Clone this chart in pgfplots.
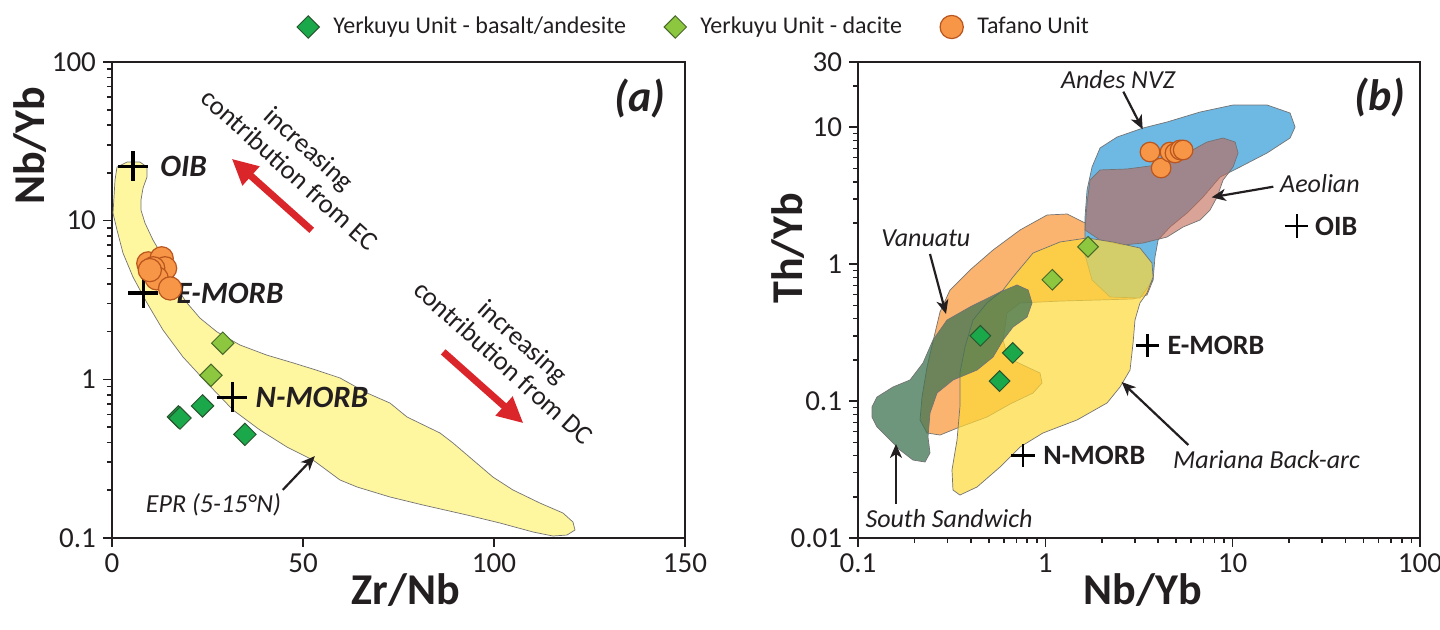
\documentclass[border=0pt]{standalone}
\usepackage{fontspec}
\setmainfont{Carlito}
\usepackage{pgfplots}
\pgfplotsset{compat=1.18}
\usetikzlibrary{arrows.meta}

\definecolor{txt}{RGB}{35,31,32}
\definecolor{gbas}{RGB}{26,168,75}
\definecolor{gbasd}{RGB}{40,85,45}
\definecolor{gdac}{RGB}{141,198,63}
\definecolor{gdacd}{RGB}{70,105,40}
\definecolor{oraf}{RGB}{247,150,70}
\definecolor{orad}{RGB}{185,85,30}
\definecolor{epr}{RGB}{255,246,160}
\definecolor{redarr}{RGB}{218,37,42}
\definecolor{andes}{RGB}{110,184,228}
\definecolor{aeol}{RGB}{192,102,83}
\definecolor{vanu}{RGB}{250,180,112}
\definecolor{maria}{RGB}{254,216,55}
\definecolor{ssand}{RGB}{62,115,82}

\pgfplotsset{
  panel/.style={
    scale only axis, height=238pt, clip=false,
    axis line style={line width=0.9pt, draw=txt},
    tick style={line width=0.8pt, draw=txt},
    tick align=outside,
    major tick length=4.5pt, minor tick length=2.5pt,
    xtick pos=left, ytick pos=left,
    tick label style={font=\fontsize{14.5}{16}\selectfont, text=txt},
    /pgf/number format/assume math mode=true,
    label style={font=\fontsize{22}{24}\selectfont\bfseries, text=txt},
  },
  fld/.style={draw=black!55, line width=0.35pt, forget plot},
  crs/.style={only marks, mark=+, mark options={line width=1.6pt, draw=black}, forget plot},
}
\tikzset{
  annot/.style={font=\fontsize{13}{15}\selectfont\itshape, text=txt, inner sep=0pt},
  blk/.style={draw=txt, line width=1.1pt, -{Stealth[length=7pt,width=6pt,inset=2pt]}},
  redarrow/.style={draw=redarr, line width=3.5pt, -{Triangle[length=13pt,width=12pt]}},
}

\begin{document}
\begin{tikzpicture}
\useasboundingbox (0,0) rectangle (720pt,315pt);

% ---------------- panel (a)
\begin{axis}[panel,
  at={(56pt,46pt)}, anchor=south west, width=286.5pt,
  ymode=log, xmin=0, xmax=150, ymin=0.1, ymax=100,
  xtick={0,50,100,150}, xticklabels={0,50,100,150},
  ytick={0.1,1,10,100}, yticklabels={0.1,1,10,100},
  minor ytick={0.2,0.3,0.4,0.5,0.6,0.7,0.8,0.9,2,3,4,5,6,7,8,9,20,30,40,50,60,70,80,90},
  xlabel={Zr/Nb}, ylabel={Nb/Yb},
  xlabel style={at={(axis description cs:0.513,-0.109)}, anchor=center},
  ylabel style={at={(axis description cs:-0.143,0.824)}, anchor=center},
  legend columns=3,
  legend cell align=left,
  legend style={at={(axis description cs:1.0175,1.0735)}, anchor=center, draw=none, fill=none,
    font=\fontsize{12}{14}\selectfont, text=txt,
    /tikz/every odd column/.append style={column sep=5pt},
    /tikz/every even column/.append style={column sep=17pt}},
]
\addplot[fld, fill=epr] coordinates {
(1.31,21.77) (3.93,23.40) (7.33,23.40) (9.16,21.77) (9.16,18.83) (8.12,16.05) (7.59,13.49) (7.59,11.66)
(8.64,9.66) (10.73,7.55) (13.35,5.90) (15.71,4.68) (17.28,3.65) (19.63,3.03) (23.04,2.43) (27.49,1.99)
(33.51,1.645) (40.58,1.42) (47.38,1.27) (53.66,1.14) (59.69,1.02) (66.75,0.82) (72.77,0.709) (77.23,0.579)
(85.86,0.459) (89.27,0.397) (94.50,0.310) (99.74,0.242) (104.97,0.2007) (112.04,0.166) (118.06,0.1437)
(120.68,0.126) (121.20,0.1123) (119.11,0.1044) (115.45,0.1029) (110.21,0.1091) (101.57,0.1243) (92.93,0.1396)
(81.41,0.1614) (72.77,0.1813) (64.14,0.2097) (59.69,0.232) (52.62,0.310) (45.81,0.3745) (38.74,0.479)
(31.68,0.641) (24.87,0.948) (18.59,1.382) (13.35,2.045) (9.16,3.03) (5.50,4.41) (2.88,6.25) (1.31,8.73)
(0.26,11.16) (0.52,14.08) (0.79,18.03)} -- cycle;

\addplot[crs, mark size=7.5pt] coordinates {(5.5,22) (8.2,3.5) (31.5,0.77)};

\addplot[only marks, mark=square*, mark size=3.95pt, mark options={rotate=45, fill=gbas, draw=gbasd, line width=0.5pt}]
  coordinates {(17.4,0.58) (17.8,0.57) (23.7,0.68) (34.8,0.45)};
\addlegendentry{Yerkuyu Unit - basalt/andesite\hspace{16pt}}
\addplot[only marks, mark=square*, mark size=3.95pt, mark options={rotate=45, fill=gdac, draw=gdacd, line width=0.5pt}]
  coordinates {(29.0,1.69) (25.9,1.06)};
\addlegendentry{Yerkuyu Unit - dacite}
\addplot[only marks, mark=*, mark size=5.8pt, mark options={fill=oraf, draw=orad, line width=0.6pt}]
  coordinates {(9.5,5.38) (13.0,5.79) (13.9,5.01) (10.8,5.01) (11.7,4.33) (15.2,3.74) (9.9,4.88)};
\addlegendentry{Tafano Unit}

\node[font=\fontsize{22}{24}\selectfont\bfseries\itshape, text=txt] at (rel axis cs:0.921,0.924) {(a)};
\node[font=\fontsize{15.5}{17}\selectfont\bfseries\itshape, text=txt, anchor=west, inner sep=0pt, xshift=13.5pt] at (axis cs:5.5,22) {OIB};
\node[font=\fontsize{15.5}{17}\selectfont\bfseries\itshape, text=txt, anchor=west, inner sep=0pt, xshift=16.5pt] at (axis cs:8.2,3.5) {E-MORB};
\node[font=\fontsize{15.5}{17}\selectfont\bfseries\itshape, text=txt, anchor=west, inner sep=0pt, xshift=11.5pt] at (axis cs:31.5,0.77) {N-MORB};

\node[rotate=-42, align=center, font=\fontsize{13.4}{14.5}\selectfont, text=txt] at (rel axis cs:0.327,0.796) {increasing\\contribution from EC};
\node[rotate=-42, align=center, font=\fontsize{13.4}{14.5}\selectfont, text=txt] at (rel axis cs:0.7007,0.391) {increasing\\contribution from DC};
\draw[redarrow] (rel axis cs:0.3485,0.6464) -- (rel axis cs:0.2089,0.7968);
\draw[redarrow] (rel axis cs:0.578,0.391) -- (rel axis cs:0.718,0.241);

\node[annot] at (rel axis cs:0.177,0.069) {EPR (5-15°N)};
\draw[blk] (rel axis cs:0.298,0.101) -- (rel axis cs:0.354,0.172);
\end{axis}

% ---------------- panel (b)
\begin{axis}[panel,
  at={(429pt,46pt)}, anchor=south west, width=281pt,
  xmode=log, ymode=log, xmin=0.1, xmax=100, ymin=0.01, ymax=30,
  xtick={0.1,1,10,100}, xticklabels={0.1,1,10,100},
  minor xtick={0.2,0.3,0.4,0.5,0.6,0.7,0.8,0.9,2,3,4,5,6,7,8,9,20,30,40,50,60,70,80,90},
  ytick={0.01,0.1,1,10,30}, yticklabels={0.01,0.1,1,10,30},
  minor ytick={0.02,0.03,0.04,0.05,0.06,0.07,0.08,0.09,0.2,0.3,0.4,0.5,0.6,0.7,0.8,0.9,2,3,4,5,6,7,8,9,20},
  xlabel={Nb/Yb}, ylabel={Th/Yb},
  xlabel style={at={(axis description cs:0.507,-0.109)}, anchor=center},
  ylabel style={at={(axis description cs:-0.1246,0.609)}, anchor=center},
]
% Vanuatu
\addplot[fld, fill=vanu] coordinates {
(1.021,2.287) (1.306,2.326) (1.590,2.033) (2.216,1.719) (3.01,1.381) (3.62,1.038) (3.76,0.767) (3.49,0.596)
(2.94,0.557) (1.198,0.538) (0.733,0.521) (0.624,0.440) (0.595,0.2795) (0.632,0.2064) (0.799,0.1775) (0.937,0.1604)
(0.960,0.1356) (0.860,0.1146) (0.648,0.0952) (0.488,0.0765) (0.350,0.0647) (0.274,0.0565) (0.2336,0.0585)
(0.2143,0.0728) (0.2196,0.1071) (0.2336,0.1775) (0.2577,0.3144) (0.274,0.4475) (0.3099,0.648) (0.3963,0.907)
(0.526,1.270) (0.733,1.778)} -- cycle;
% Andes NVZ
\addplot[fld, fill=andes] coordinates {
(1.629,2.212) (1.670,3.483) (1.776,5.13) (1.959,7.06) (2.415,8.49) (3.323,9.88) (4.465,10.93) (6.70,12.93)
(10.05,14.55) (15.26,14.55) (20.25,12.72) (21.53,10.05) (20.25,8.35) (15.26,6.49) (10.95,5.13) (8.57,4.335)
(6.95,3.097) (5.71,2.366) (4.63,1.870) (4.00,1.503) (3.85,1.129) (3.76,0.767) (3.20,0.566) (2.216,0.576)
(1.776,0.767) (1.629,1.168)} -- cycle;
% Aeolian
\addplot[fld, fill=aeol, fill opacity=0.6] coordinates {
(1.629,1.778) (1.670,2.80) (1.733,4.12) (1.959,4.88) (2.731,4.96) (3.95,5.30) (5.71,6.49) (7.30,7.81)
(8.89,8.35) (10.30,7.81) (10.69,6.49) (10.05,5.13) (8.89,4.12) (8.26,3.097) (7.57,2.488) (6.70,2.103)
(5.44,1.870) (4.465,1.580) (3.323,1.428) (2.598,1.381) (1.959,1.503)} -- cycle;
% Mariana back-arc
\addplot[fld, fill=maria, fill opacity=0.7] coordinates {
(0.672,0.806) (0.860,1.207) (1.198,1.453) (1.670,1.554) (2.298,1.453) (3.20,1.313) (3.71,1.020) (3.76,0.806)
(3.49,0.616) (3.20,0.521) (3.01,0.391) (2.94,0.2657) (2.833,0.1687) (2.505,0.1268) (2.135,0.0969) (1.476,0.0728)
(0.972,0.0585) (0.733,0.0462) (0.573,0.0330) (0.432,0.02358) (0.350,0.0206) (0.3214,0.0224) (0.3175,0.0314)
(0.3378,0.0520) (0.350,0.0906) (0.350,0.1604) (0.3727,0.2485) (0.411,0.391) (0.488,0.521) (0.595,0.648)} -- cycle;
% South Sandwich
\addplot[fld, fill=ssand, fill opacity=0.75] coordinates {
(0.1188,0.0906) (0.1263,0.1071) (0.1538,0.1268) (0.1895,0.1426) (0.2223,0.1898) (0.2514,0.2795) (0.2987,0.391)
(0.3963,0.487) (0.573,0.626) (0.706,0.705) (0.809,0.648) (0.849,0.521) (0.799,0.4114) (0.672,0.3477)
(0.595,0.2795) (0.526,0.210) (0.432,0.1687) (0.3214,0.1426) (0.2641,0.1146) (0.2423,0.0819) (0.2364,0.0547)
(0.2423,0.0418) (0.2279,0.0359) (0.1966,0.0371) (0.1676,0.0439) (0.1482,0.0520) (0.1263,0.0647) (0.1188,0.0765)} -- cycle;

\addplot[crs, mark size=5.8pt, mark options={line width=1.3pt}] coordinates {(22,1.9) (3.5,0.255) (0.76,0.04)};

\addplot[only marks, mark=square*, mark size=3.65pt, mark options={rotate=45, fill=gbas, draw=gbasd, line width=0.5pt}]
  coordinates {(0.45,0.30) (0.67,0.225) (0.57,0.14)};
\addplot[only marks, mark=square*, mark size=3.65pt, mark options={rotate=45, fill=gdac, draw=gdacd, line width=0.5pt}]
  coordinates {(1.69,1.34) (1.09,0.77)};
\addplot[only marks, mark=*, mark size=4.9pt, mark options={fill=oraf, draw=orad, line width=0.6pt}]
  coordinates {(3.62,6.6) (4.15,5.04) (4.63,6.6) (4.92,6.49) (5.24,6.83) (5.44,6.83)};

\node[font=\fontsize{22}{24}\selectfont\bfseries\itshape, text=txt] at (rel axis cs:0.929,0.926) {(b)};
\node[font=\fontsize{14}{16}\selectfont\bfseries, text=txt, anchor=west, inner sep=0pt, xshift=9pt] at (axis cs:22,1.9) {OIB};
\node[font=\fontsize{14}{16}\selectfont\bfseries, text=txt, anchor=west, inner sep=0pt, xshift=10pt] at (axis cs:3.5,0.255) {E-MORB};
\node[font=\fontsize{14}{16}\selectfont\bfseries, text=txt, anchor=west, inner sep=0pt, xshift=10pt] at (axis cs:0.76,0.04) {N-MORB};

\node[annot] at (rel axis cs:0.4626,0.964) {Andes NVZ};
\draw[blk] (rel axis cs:0.4721,0.9376) -- (rel axis cs:0.5066,0.8586);
\node[annot] at (rel axis cs:0.822,0.745) {Aeolian};
\draw[blk] (rel axis cs:0.739,0.738) -- (rel axis cs:0.6293,0.7157);
\node[annot] at (rel axis cs:0.1207,0.6296) {Vanuatu};
\draw[blk] (rel axis cs:0.1281,0.5966) -- (rel axis cs:0.1566,0.4706);
\node[annot] at (rel axis cs:0.162,0.0414) {South Sandwich};
\draw[blk] (rel axis cs:0.0676,0.0714) -- (rel axis cs:0.0676,0.1975);
\node[annot] at (rel axis cs:0.727,0.164) {Mariana Back-arc};
\draw[blk] (rel axis cs:0.5878,0.1954) -- (rel axis cs:0.4692,0.3277);
\end{axis}
\end{tikzpicture}
\end{document}
